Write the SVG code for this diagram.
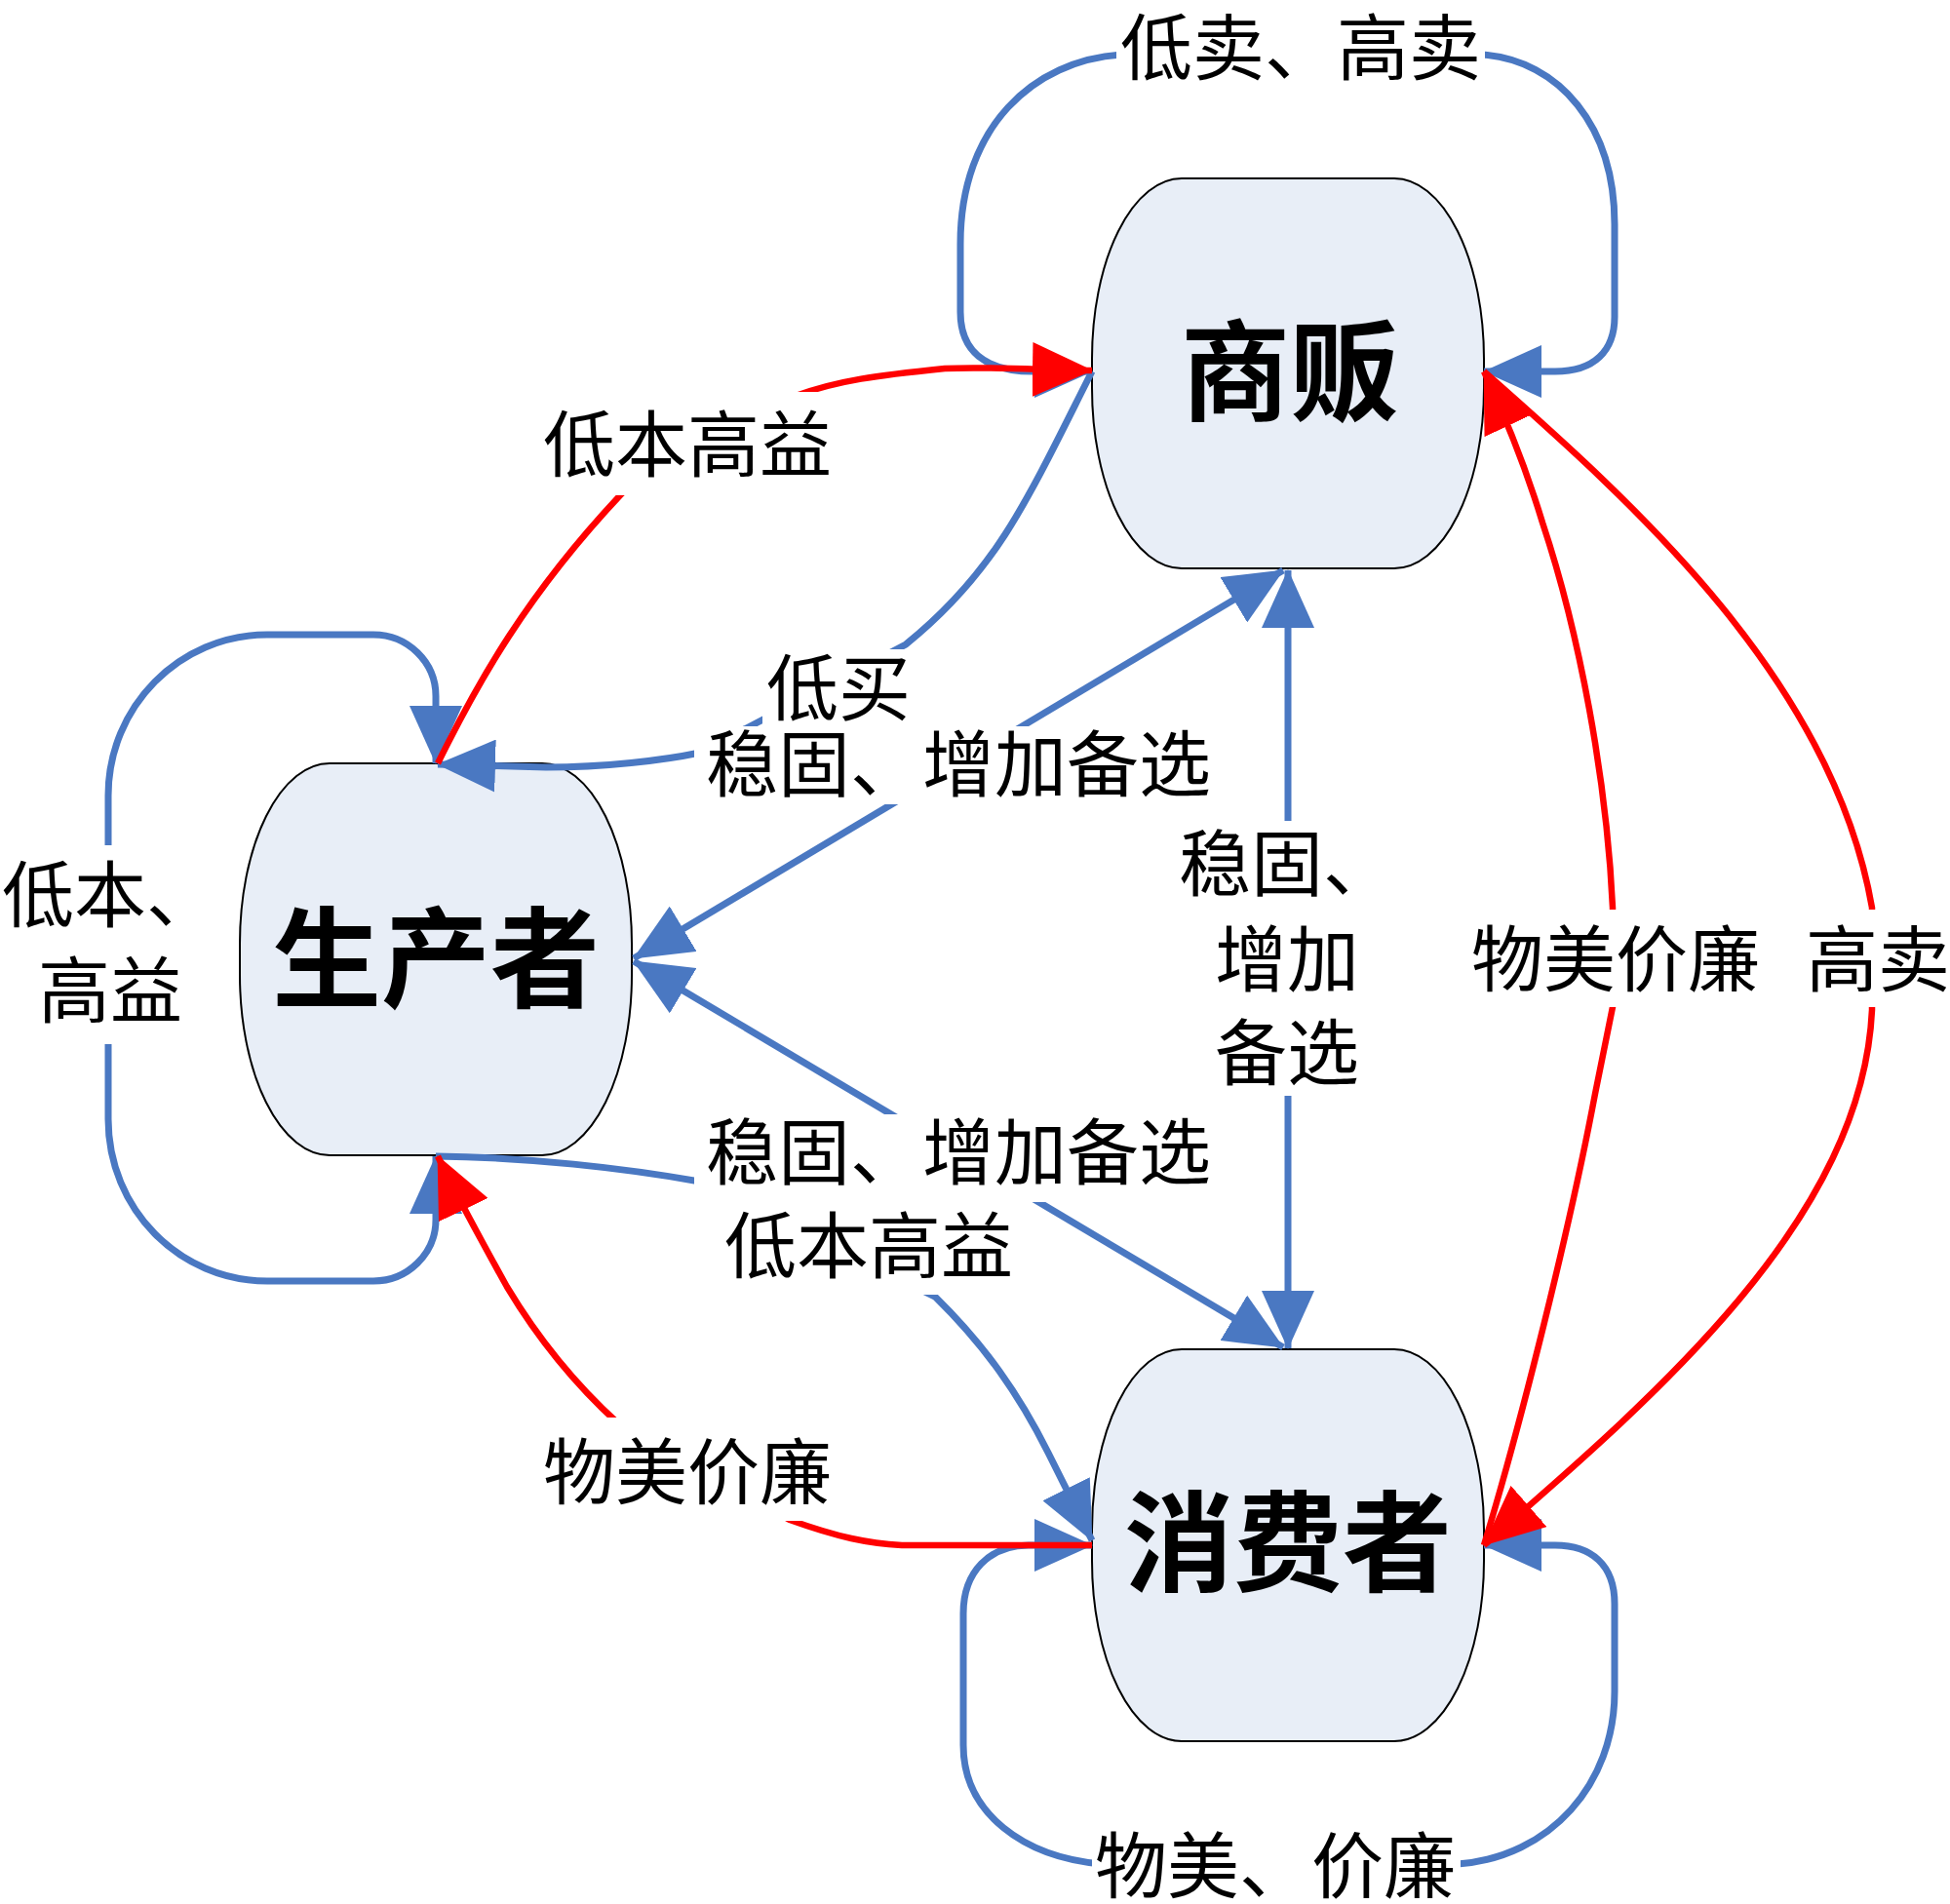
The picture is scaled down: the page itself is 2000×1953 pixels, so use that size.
<svg xmlns="http://www.w3.org/2000/svg" width="2000" height="1953" viewBox="0 0 2000 1953">
<style>
.n{fill:#E8EEF7;stroke:#000;stroke-width:2}
.nt{font-family:"Noto Sans CJK SC","Noto Sans",sans-serif;font-size:112px;font-weight:bold;text-anchor:middle;fill:#000}
.lt{font-family:"Noto Sans CJK SC","Noto Sans",sans-serif;font-size:74px;text-anchor:middle;fill:#000}
.b{fill:none;stroke:#4A78C2;stroke-width:7}
.r{fill:none;stroke:#FF0000;stroke-width:6.5}
.bg{fill:#fff}
</style>
<defs>
<marker id="ab" markerUnits="userSpaceOnUse" markerWidth="60" markerHeight="54" refX="59" refY="27" orient="auto-start-reverse" viewBox="0 0 60 54"><path d="M0,0 L60,27 L0,54 z" fill="#4A78C2"/></marker>
<marker id="ar" markerUnits="userSpaceOnUse" markerWidth="62" markerHeight="56" refX="61" refY="28" orient="auto-start-reverse" viewBox="0 0 62 56"><path d="M0,0 L62,28 L0,56 z" fill="#FF0000"/></marker>
</defs>
<g id="node-shangfan"><rect class="n" x="1120" y="183" width="402" height="400" rx="92" ry="185"/><text class="nt" x="1323" y="423">商贩</text></g>
<g id="node-shengchanzhe"><rect class="n" x="246" y="783" width="402" height="402" rx="92" ry="185"/><text class="nt" x="447" y="1025">生产者</text></g>
<g id="node-xiaofeizhe"><rect class="n" x="1120" y="1384" width="402" height="402" rx="92" ry="185"/><text class="nt" x="1321" y="1624">消费者</text></g>
<g id="connectors">
<path class="b" marker-start="url(#ab)" marker-end="url(#ab)" d="M1120,381 L1060,381 C1010,381 985,360 985,320 L985,250 C985,130 1060,62 1150,56 L1520,56 C1600,62 1656,130 1656,230 L1656,325 C1656,360 1635,381 1595,381 L1522,381"/>
<path class="b" marker-start="url(#ab)" marker-end="url(#ab)" d="M447,783 L447,714 C447,679 418,651 383,651 L274,651 C184,651 111,725 111,816 L111,1148 C111,1240 184,1314 274,1314 L383,1314 C418,1314 447,1286 447,1251 L447,1186"/>
<path class="b" marker-start="url(#ab)" marker-end="url(#ab)" d="M1120,1585 L1055,1585 C1015,1585 988,1612 988,1655 L988,1790 C988,1860 1050,1905 1130,1912 L1495,1912 C1590,1905 1656,1830 1656,1735 L1656,1645 C1656,1605 1632,1585 1595,1585 L1522,1585"/>
<path class="b" marker-end="url(#ab)" d="M1120,381 C1095,430 1062,500 1031,548 C1000,596 965,632 929,661 L718,772 C680,780 620,787 560,787 L449,784"/>
<path class="b" marker-start="url(#ab)" marker-end="url(#ab)" d="M1316,585 L650,983"/>
<path class="b" marker-start="url(#ab)" marker-end="url(#ab)" d="M1321,585 L1321,1383"/>
<path class="b" marker-start="url(#ab)" marker-end="url(#ab)" d="M650,986 L1316,1382"/>
<path class="b" marker-end="url(#ab)" d="M447,1186 C540,1187 640,1198 718,1212 L959,1330 C1010,1380 1045,1430 1075,1490 L1120,1580"/>
<path class="r" marker-end="url(#ar)" d="M449,783 C490,700 540,610 638,506 L816,406 C860,390 900,385 969,378 C1010,376 1060,379 1120,380"/>
<path class="r" marker-end="url(#ar)" d="M1120,1585 L925,1585 C890,1583 860,1577 810,1559 L634,1460 C590,1420 550,1370 520,1320 C495,1275 470,1230 449,1186"/>
<path class="r" marker-end="url(#ar)" d="M1522,1585 C1560,1460 1610,1260 1636,1122 L1654,1033 L1654,931 C1648,800 1620,650 1582,536 C1565,480 1545,430 1522,381"/>
<path class="r" marker-end="url(#ar)" d="M1522,381 C1680,520 1880,700 1920,931 L1920,1036 C1910,1250 1700,1430 1522,1585"/>
</g>
<g id="labels">
<rect class="bg" x="1145" y="12" width="378" height="84"/>
<text class="lt" x="1334" y="76">低卖、高卖</text>
<rect class="bg" x="548" y="402" width="313" height="106"/>
<text class="lt" x="705" y="483">低本高益</text>
<rect class="bg" x="782" y="666" width="155" height="80"/>
<text class="lt" x="860" y="733">低买</text>
<rect class="bg" x="712" y="745" width="545" height="80"/>
<text class="lt" x="983" y="811">稳固、增加备选</text>
<rect class="bg" x="1205" y="842" width="200" height="282"/>
<text class="lt" x="1320" y="913">稳固、</text>
<text class="lt" x="1320" y="1011">增加</text>
<text class="lt" x="1320" y="1107">备选</text>
<rect class="bg" x="1505" y="933" width="310" height="100"/>
<text class="lt" x="1657" y="1011">物美价廉</text>
<rect class="bg" x="1850" y="933" width="150" height="100"/>
<text class="lt" x="1926" y="1011">高卖</text>
<rect class="bg" x="0" y="867" width="228" height="204"/>
<text class="lt" x="113" y="945">低本、</text>
<text class="lt" x="113" y="1043">高益</text>
<rect class="bg" x="712" y="1143" width="545" height="90"/>
<text class="lt" x="983" y="1209">稳固、增加备选</text>
<rect class="bg" x="735" y="1233" width="312" height="95"/>
<text class="lt" x="891" y="1305">低本高益</text>
<rect class="bg" x="548" y="1454" width="313" height="106"/>
<text class="lt" x="705" y="1537">物美价廉</text>
<rect class="bg" x="1120" y="1876" width="378" height="77"/>
<text class="lt" x="1308" y="1941">物美、价廉</text>
</g>
</svg>
